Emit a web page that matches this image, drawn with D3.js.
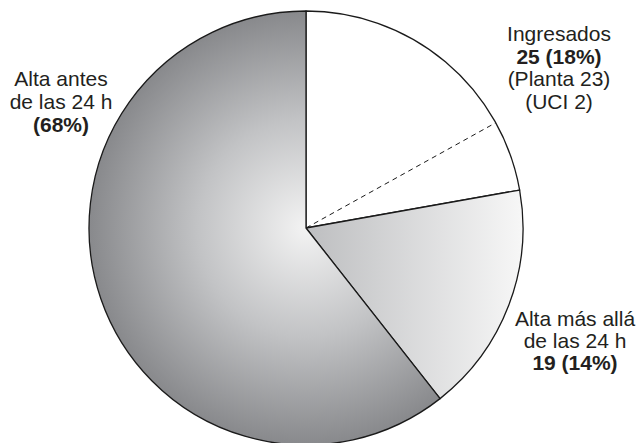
<!DOCTYPE html>
<html>
<head>
<meta charset="utf-8">
<script src="https://cdn.jsdelivr.net/npm/d3@7"></script>
<style>
  body { margin: 0; background: #fff; }
  text { font-family: "Liberation Sans", Arial, sans-serif; fill: #231f20; }
</style>
</head>
<body>
<div id="chart"></div>
<script>
// slices in drawing order, clockwise from 12 o'clock
var categories = ['Ingresados', 'Alta más allá de las 24 h', 'Alta antes de las 24 h']
// shares as the slices are drawn (%)
var sliceShares = [22.2, 17.2, 60.6]
// split of "Ingresados" by the dashed line (Planta / UCI), as drawn
var ingresadosSplit = [76.3, 23.7]

var labelIngresados = [['Ingresados', false], ['25 (18%)', true], ['(Planta 23)', false], ['(UCI 2)', false]]
var labelAltaAntes = [['Alta antes', false], ['de las 24 h', false], ['(68%)', true]]
var labelAltaMas = [['Alta más allá', false], ['de las 24 h', false], ['19 (14%)', true]]

var w = 640, h = 443
var cx = 306, cy = 228, r = 217

var svg = d3.select('#chart')
  .append('svg')
  .attr('width', w)
  .attr('height', h)

var defs = svg.append('defs')

// big slice: light at the centre, darker towards the rim
// (coordinates are in the pie group's space, centre = 0,0)
var rg = defs.append('radialGradient')
  .attr('id', 'gradBig')
  .attr('gradientUnits', 'userSpaceOnUse')
  .attr('cx', 0).attr('cy', 0).attr('r', r)
rg.append('stop').attr('offset', '0%').attr('stop-color', '#f3f3f3')
rg.append('stop').attr('offset', '50%').attr('stop-color', '#c2c3c5')
rg.append('stop').attr('offset', '100%').attr('stop-color', '#88898c')

// middle slice: darker near the centre, lighter to the right
var lg = defs.append('linearGradient')
  .attr('id', 'gradMid')
  .attr('gradientUnits', 'userSpaceOnUse')
  .attr('x1', 0).attr('y1', 0).attr('x2', r).attr('y2', 0)
lg.append('stop').attr('offset', '0%').attr('stop-color', '#bdbec0')
lg.append('stop').attr('offset', '100%').attr('stop-color', '#f7f7f7')

var fills = ['#ffffff', 'url(#gradMid)', 'url(#gradBig)']

var pie = d3.pie().sort(null).value(function(d) { return d })
var arcs = pie(sliceShares)

var arc = d3.arc().innerRadius(0).outerRadius(r)

var g = svg.append('g')
  .attr('transform', 'translate(' + cx + ',' + cy + ')')

g.selectAll('.slice')
  .data(arcs)
  .enter().append('path')
  .attr('class', 'slice')
  .attr('d', arc)
  .attr('fill', function(d, i) { return fills[i] })
  .attr('stroke', '#1a1a1a')
  .attr('stroke-width', 1.3)
  .attr('stroke-linejoin', 'round')

// dashed divider inside "Ingresados"
var sub = d3.pie().sort(null).value(function(d) { return d })
  .startAngle(arcs[0].startAngle).endAngle(arcs[0].endAngle)(ingresadosSplit)
var p = d3.pointRadial(sub[0].endAngle, r)
g.append('line')
  .attr('x1', 0).attr('y1', 0)
  .attr('x2', p[0]).attr('y2', p[1])
  .attr('stroke', '#1a1a1a')
  .attr('stroke-width', 1)
  .attr('stroke-dasharray', '5,4')

function label(lines, x, y0, step) {
  var t = svg.append('text')
    .attr('text-anchor', 'middle')
    .style('font-size', '21px')
  lines.forEach(function(l, i) {
    t.append('tspan')
      .attr('x', x)
      .attr('y', y0 + i * step)
      .style('font-weight', l[1] ? 'bold' : 'normal')
      .text(l[0])
  })
}

label(labelIngresados, 559, 41, 22.5)
label(labelAltaAntes, 61, 86, 23)
label(labelAltaMas, 575, 326, 22)
</script>
</body>
</html>
